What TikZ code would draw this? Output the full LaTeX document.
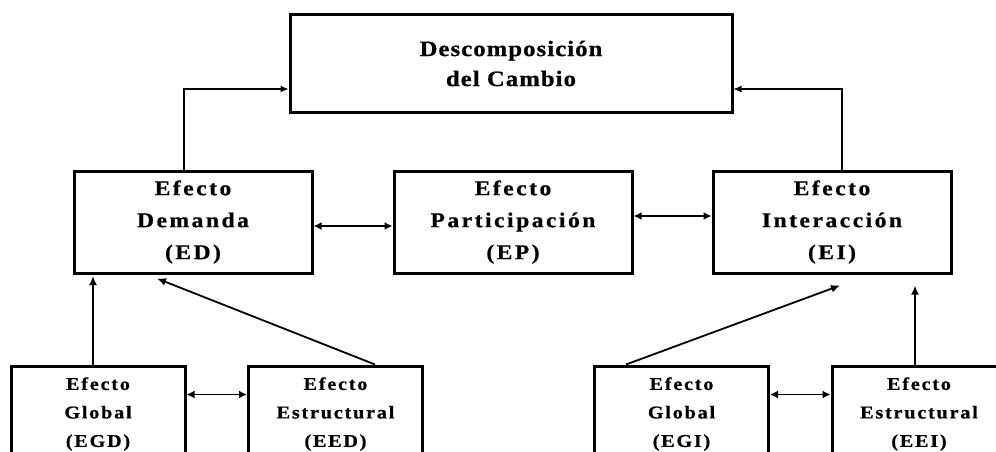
\documentclass[tikz,border=0pt]{standalone}
\usepackage{fontspec}
\setmainfont{Liberation Serif}
\newfontfamily\topfont[LetterSpace=5,FakeStretch=1.12,BoldFont={Liberation Serif Bold},BoldFeatures={FakeStretch=1.12,LetterSpace=5,FakeBold=0.8}]{Liberation Serif}
\newfontfamily\midfont[LetterSpace=12,FakeStretch=1.12,BoldFont={Liberation Serif Bold},BoldFeatures={FakeStretch=1.12,LetterSpace=12,FakeBold=0.8}]{Liberation Serif}
\newfontfamily\lowfont[LetterSpace=10,FakeStretch=1.12,BoldFont={Liberation Serif Bold},BoldFeatures={FakeStretch=1.12,LetterSpace=10,FakeBold=0.8}]{Liberation Serif}
\usetikzlibrary{arrows.meta,calc}
\begin{document}
\begin{tikzpicture}[x=1pt,y=-1pt,
  box/.style={draw, line width=3pt, align=center, inner sep=0pt, fill=white},
  topbox/.style={box, minimum width=442pt, minimum height=97pt, font=\topfont\bfseries\fontsize{22}{30}\selectfont},
  midbox/.style={box, minimum width=238pt, minimum height=102pt, font=\midfont\bfseries\fontsize{21}{32}\selectfont},
  lowbox/.style={box, minimum width=174pt, minimum height=96pt, font=\lowfont\bfseries\fontsize{18}{28.5}\selectfont},
  thinarr/.style={line width=1.1pt, -{Latex[length=8pt,width=7pt]}},
  arr/.style={line width=1.8pt, -{Latex[length=9pt,width=8pt]}},
  dblarr/.style={line width=1.8pt, {Latex[length=8pt,width=8pt]}-{Latex[length=8pt,width=8pt]}}]
\useasboundingbox (0,0) rectangle (996,452);
\clip (0,0) rectangle (996,452);
\fill[white] (0,0) rectangle (996,452);

\node[topbox] (top) at (511,63.5) {Descomposición\\del Cambio};

\node[midbox] (ED) at (193,222) {Efecto\\Demanda\\(ED)};
\node[midbox] (EP) at (513,222) {Efecto\\Participación\\(EP)};
\node[midbox] (EI) at (832,222) {Efecto\\Interacción\\(EI)};

\node[lowbox] (EGD) at (98,414) {Efecto\\Global\\(EGD)};
\node[lowbox] (EED) at (335.5,414) {Efecto\\Estructural\\(EED)};
\node[lowbox] (EGI) at (681.5,414) {Efecto\\Global\\(EGI)};
\node[lowbox] (EEI) at (919,414) {Efecto\\Estructural\\(EEI)};

% upper connections
\draw[thinarr] ($(ED.north)+(-9,0)$) |- ($(top.west)+(0,25.5)$);
\draw[thinarr] ($(EI.north)+(10,0)$) |- ($(top.east)+(0,25.5)$);
\draw[dblarr] ($(ED.east)+(0,4)$) -- ($(EP.west)+(0,4)$);
\draw[dblarr] ($(EP.east)+(0,-6)$) -- ($(EI.west)+(0,-6)$);

% lower left
\draw[arr] ($(EGD.north)+(-5,0)$) -- ($(EGD.north |- ED.south)+(-5,1.5)$);
\draw[arr] ($(EED.north)+(39.5,0)$) -- ($(ED.south)+(-36,4)$);
\draw[dblarr] ($(EGD.north east)+(0,30)$) -- ($(EED.north west)+(0,30)$);

% lower right
\draw[arr] ($(EGI.north)+(-55.5,0)$) -- ($(EI.south)+(8,11)$);
\draw[arr] ($(EEI.north)+(-4,0)$) -- ($(EEI.north |- EI.south)+(-4,11)$);
\draw[dblarr] ($(EGI.north east)+(0,30)$) -- ($(EEI.north west)+(0,30)$);
\end{tikzpicture}
\end{document}
